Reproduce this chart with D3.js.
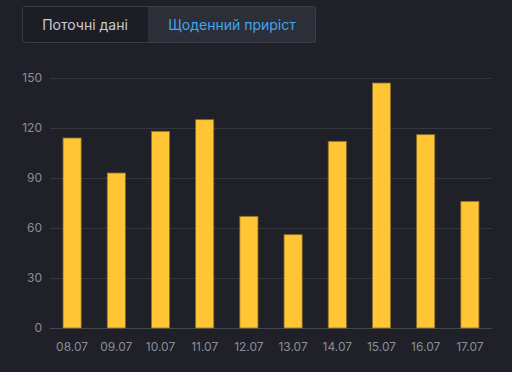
<!DOCTYPE html>
<html>
<head>
<meta charset="utf-8">
<script src="https://cdn.jsdelivr.net/npm/d3@7"></script>
<style>
  html, body { margin: 0; padding: 0; background: #1f2028; }
  svg { display: block; font-family: Inter, "Noto Sans", sans-serif; }
</style>
</head>
<body>
<div id="chart"></div>
<script>
const days = ["08.07", "09.07", "10.07", "11.07", "12.07", "13.07", "14.07", "15.07", "16.07", "17.07"];
const dailyGrowth = [114, 93, 118, 125, 67, 56, 112, 147, 116, 76];
const yTicks = [0, 30, 60, 90, 120, 150];
const tabs = ["Поточні дані", "Щоденний приріст"];

const width = 512, height = 372;
const margin = { top: 78, right: 20, bottom: 44, left: 50 };

const svg = d3.select("#chart").append("svg")
    .attr("width", width)
    .attr("height", height);

svg.append("rect").attr("width", width).attr("height", height).attr("fill", "#1f2028");

// tab switcher
const tabX = d3.scaleBand().domain(tabs).range([22, 316]);
const tabW = [126, 168];
let tx = 22;
const tabG = svg.append("g");
tabs.forEach((t, i) => {
    tabG.append("rect")
        .attr("x", tx).attr("y", 6)
        .attr("width", tabW[i]).attr("height", 37)
        .attr("fill", i === 1 ? "#2c2f38" : "#1d1e25");
    tabG.append("text")
        .attr("x", tx + tabW[i] / 2).attr("y", 29.5)
        .attr("text-anchor", "middle")
        .attr("font-size", 14)
        .attr("fill", i === 1 ? "#42a5ec" : "#c8cad0")
        .text(t);
    tx += tabW[i];
});
tabG.append("rect")
    .attr("x", 22.5).attr("y", 6.5)
    .attr("width", 293).attr("height", 36)
    .attr("rx", 3)
    .attr("fill", "none")
    .attr("stroke", "#3a3d46");

const x = d3.scaleBand()
    .domain(days)
    .range([margin.left, width - margin.right])
    .paddingInner(0.59)
    .paddingOuter(0.295);

const y = d3.scaleLinear()
    .domain([0, 150])
    .range([height - margin.bottom, margin.top]);

// grid
svg.append("g")
    .selectAll("line")
    .data(yTicks)
    .join("line")
    .attr("x1", margin.left).attr("x2", width - margin.right)
    .attr("y1", d => Math.round(y(d)) + 0.5).attr("y2", d => Math.round(y(d)) + 0.5)
    .attr("stroke", d => d === 0 ? "#44464d" : "#35373e");

// y axis
const yAxis = svg.append("g")
    .attr("transform", `translate(${margin.left - 8},0)`)
    .call(d3.axisLeft(y).tickValues(yTicks).tickSize(0).tickPadding(0));
yAxis.select(".domain").remove();
yAxis.selectAll("text").attr("fill", "#8b8e97").attr("font-size", 12).attr("font-family", "Inter, 'Noto Sans', sans-serif");

// x axis
const xAxis = svg.append("g")
    .attr("transform", `translate(0,${height - margin.bottom})`)
    .call(d3.axisBottom(x).tickSize(0).tickPadding(14));
xAxis.select(".domain").remove();
xAxis.selectAll("text").attr("fill", "#8b8e97").attr("font-size", 12).attr("font-family", "Inter, 'Noto Sans', sans-serif");

// bars
svg.append("g")
    .selectAll("rect")
    .data(days)
    .join("rect")
    .attr("x", d => x(d))
    .attr("width", x.bandwidth())
    .attr("y", (d, i) => y(dailyGrowth[i]))
    .attr("height", (d, i) => y(0) - y(dailyGrowth[i]))
    .attr("fill", "#ffc535")
    .attr("stroke", "#8a6e2a")
    .attr("stroke-width", 0.8);
</script>
</body>
</html>
